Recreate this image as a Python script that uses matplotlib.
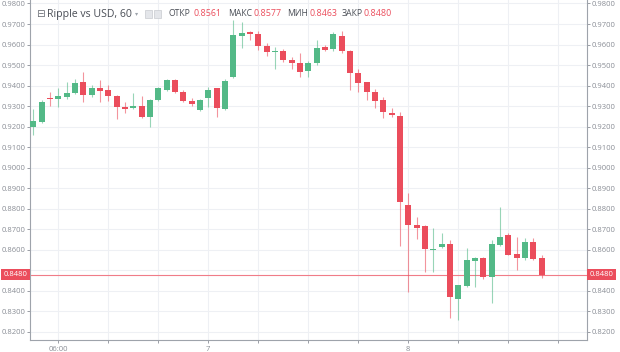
import matplotlib
matplotlib.use("Agg")
import matplotlib.pyplot as plt
from matplotlib.patches import Rectangle
import numpy as np

# hourly candles, first one is 03:00 on day 6
opens = [0.9197, 0.9222, 0.9339, 0.9335, 0.9343, 0.9366, 0.9419, 0.9353, 0.9390, 0.9379,
         0.9350, 0.9298, 0.9289, 0.9301, 0.9249, 0.9330, 0.9379, 0.9425, 0.9371, 0.9325,
         0.9282, 0.9342, 0.9386, 0.9285, 0.9441, 0.9643, 0.9660, 0.9652, 0.9593, 0.9563,
         0.9569, 0.9525, 0.9512, 0.9472, 0.9509, 0.9587, 0.9577, 0.9642, 0.9569, 0.9460,
         0.9417, 0.9368, 0.9330, 0.9268, 0.9254, 0.8819, 0.8721, 0.8714, 0.8600, 0.8613,
         0.8627, 0.8361, 0.8426, 0.8546, 0.8562, 0.8470, 0.8624, 0.8673, 0.8579, 0.8559,
         0.8637, 0.8561]
highs = [0.9286, 0.9328, 0.9370, 0.9389, 0.9420, 0.9432, 0.9468, 0.9405, 0.9428, 0.9403,
         0.9353, 0.9322, 0.9364, 0.9347, 0.9335, 0.9395, 0.9430, 0.9430, 0.9380, 0.9340,
         0.9335, 0.9395, 0.9390, 0.9430, 0.9718, 0.9712, 0.9665, 0.9665, 0.9610, 0.9590,
         0.9580, 0.9540, 0.9560, 0.9520, 0.9620, 0.9600, 0.9660, 0.9665, 0.9572, 0.9480,
         0.9420, 0.9385, 0.9345, 0.9290, 0.9273, 0.8877, 0.8760, 0.8720, 0.8705, 0.8681,
         0.8650, 0.8430, 0.8608, 0.8565, 0.8565, 0.8648, 0.8811, 0.8684, 0.8664, 0.8660,
         0.8657, 0.8577]
lows = [0.9159, 0.9218, 0.9300, 0.9296, 0.9335, 0.9360, 0.9322, 0.9345, 0.9318, 0.9325,
        0.9236, 0.9265, 0.9284, 0.9240, 0.9200, 0.9325, 0.9372, 0.9365, 0.9320, 0.9300,
        0.9275, 0.9298, 0.9249, 0.9280, 0.9436, 0.9584, 0.9620, 0.9575, 0.9545, 0.9480,
        0.9515, 0.9480, 0.9440, 0.9440, 0.9500, 0.9570, 0.9570, 0.9560, 0.9379, 0.9370,
        0.9330, 0.9290, 0.9240, 0.9245, 0.8617, 0.8397, 0.8652, 0.8494, 0.8494, 0.8610,
        0.8267, 0.8259, 0.8420, 0.8421, 0.8460, 0.8340, 0.8620, 0.8575, 0.8502, 0.8550,
        0.8550, 0.8463]
closes = [0.9228, 0.9322, 0.9334, 0.9348, 0.9364, 0.9411, 0.9355, 0.9387, 0.9374, 0.9347,
          0.9298, 0.9285, 0.9301, 0.9249, 0.9330, 0.9390, 0.9425, 0.9371, 0.9327, 0.9311,
          0.9330, 0.9379, 0.9293, 0.9423, 0.9647, 0.9654, 0.9650, 0.9593, 0.9563, 0.9569,
          0.9525, 0.9509, 0.9468, 0.9509, 0.9582, 0.9572, 0.9650, 0.9569, 0.9463, 0.9415,
          0.9368, 0.9327, 0.9273, 0.9255, 0.8835, 0.8721, 0.8705, 0.8605, 0.8605, 0.8627,
          0.8372, 0.8429, 0.8551, 0.8562, 0.8470, 0.8627, 0.8661, 0.8575, 0.8562, 0.8637,
          0.8556, 0.8480]

tick_pos = [3, 9, 15, 21, 27, 33, 39, 45, 51, 57, 63]
tick_labels = ["06:00", "", "", "7", "", "", "", "8", "", "", ""]
y_ticks = [0.82, 0.83, 0.84, 0.85, 0.86, 0.87, 0.88, 0.89, 0.90, 0.91,
           0.92, 0.93, 0.94, 0.95, 0.96, 0.97, 0.98]
last_price = 0.8480

up_col = "#53b987"
down_col = "#eb4d5c"
grid_col = "#eef0f4"
txt_col = "#8a8e96"

plt.rcParams['font.family'] = ['Open Sans', 'DejaVu Sans']

fig = plt.figure(figsize=(6.2, 3.52), dpi=100)
ax = fig.add_axes([30 / 620, 12 / 352, 557 / 620, 340 / 352])

x = np.arange(len(opens))
o = np.array(opens)
c = np.array(closes)
cols = [up_col if cc >= oo else down_col for oo, cc in zip(o, c)]

ax.vlines(x, lows, highs, colors=cols, linewidth=0.8, alpha=0.6, zorder=3)
h = np.maximum(np.abs(c - o), 0.00025)
ax.bar(x, h, bottom=np.minimum(o, c), width=0.72, color=cols, linewidth=0, zorder=4)

ax.axhline(last_price, color="#f07c88", linewidth=0.8, zorder=2)

ax.set_xlim(-0.4, 66.45)
ax.set_ylim(0.8161, 0.9817)
ax.set_xticks(tick_pos)
ax.set_xticklabels(tick_labels)
for lab in ax.get_xticklabels():
    if lab.get_text() in ("7", "8"):
        lab.set_color("#4a4e56")
ax.set_yticks(y_ticks)
# the 0.8500 label is covered by the last price box
ax.set_yticklabels(["" if abs(v - 0.85) < 1e-9 else "%.4f" % v for v in y_ticks])
ax.tick_params(axis="y", which="both", left=True, right=True, labelleft=True,
               labelright=True, labelsize=5.5, colors=txt_col, length=2, width=0.6, pad=1.5)
ax.tick_params(axis="x", labelsize=5.5, colors=txt_col, length=2, width=0.6, pad=2)
ax.grid(True, color=grid_col, linewidth=0.8, zorder=0)
ax.set_axisbelow(True)
for s in ["left", "right", "bottom"]:
    ax.spines[s].set_color("#9ea3ab")
    ax.spines[s].set_linewidth(0.8)
ax.spines["top"].set_visible(False)

# last price labels on both sides
ax.text(-0.005, last_price, "%.4f" % last_price, transform=ax.get_yaxis_transform(),
        ha="right", va="center", fontsize=5.5, color="white", zorder=10,
        bbox=dict(boxstyle="square,pad=0.3", fc=down_col, ec="none"))
ax.text(1.005, last_price, "%.4f" % last_price, transform=ax.get_yaxis_transform(),
        ha="left", va="center", fontsize=5.5, color="white", zorder=10,
        bbox=dict(boxstyle="square,pad=0.3", fc=down_col, ec="none"))

# header legend
hy = 1 - 14 / 352
fig.text(36 / 620, hy, "\u229f", family="DejaVu Sans", fontsize=7.5, color="#6a6e76", va="center")
fig.text(47 / 620, hy, "Ripple vs USD, 60", fontsize=7.6, color="#4a4e56", va="center")
fig.text(135 / 620, hy, "\u25be", family="DejaVu Sans", fontsize=4.5, color="#9ea3ab", va="center")
for px in [145, 154]:
    fig.patches.append(Rectangle((px / 620, hy - 4 / 352), 7 / 620, 8 / 352,
                                 transform=fig.transFigure, fc="#e4e6ea", ec="#c8cbd0", lw=0.5))
names = ["\u041e\u0422\u041a\u0420", "\u041c\u0410\u041a\u0421", "\u041c\u0418\u041d", "\u0417\u0410\u041a\u0420"]
vals = [opens[-1], highs[-1], lows[-1], closes[-1]]
name_x = [168, 228, 287, 342]
val_x = [193, 253, 309, 364]
for name, val, nx, vx in zip(names, vals, name_x, val_x):
    fig.text(nx / 620, hy, name, fontsize=6.2, color="#4a4e56", va="center")
    fig.text(vx / 620, hy, "%.4f" % val, fontsize=6.4, color=down_col, va="center")

fig.savefig("out.png", dpi=100, facecolor="white")
